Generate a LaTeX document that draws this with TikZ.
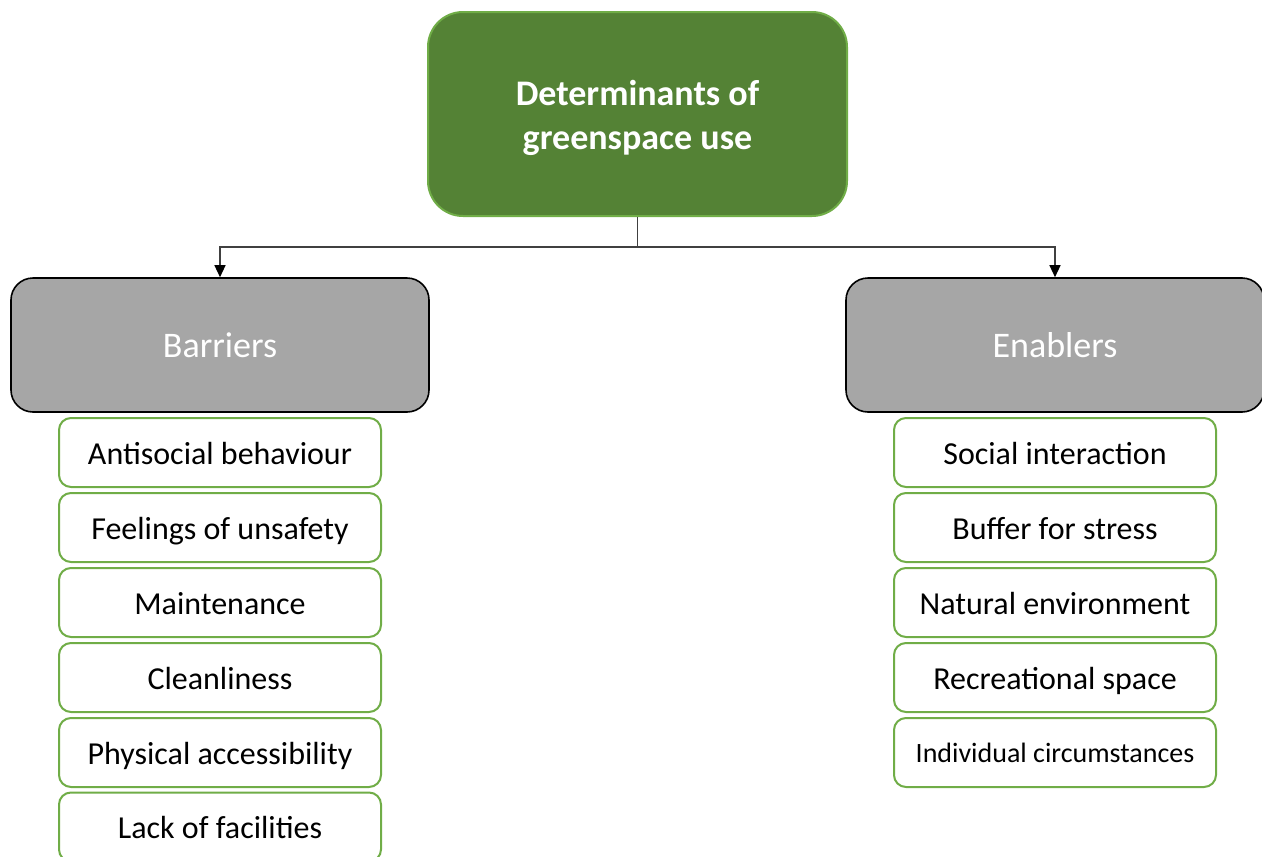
\documentclass[tikz,border=0pt]{standalone}
\usepackage{fontspec}
\setmainfont{Carlito}
\usetikzlibrary{arrows.meta}
\definecolor{dgreen}{HTML}{548235}
\definecolor{lgreen}{HTML}{70AD47}
\definecolor{boxgray}{HTML}{A6A6A6}
\definecolor{linegray}{HTML}{404040}
\tikzset{
  topbox/.style={draw=lgreen, line width=2pt, fill=dgreen, rounded corners=35pt,
    minimum width=419pt, minimum height=204pt, inner sep=0pt, text=white,
    font=\fontsize{36}{44}\selectfont\bfseries, align=center},
  catbox/.style={draw=black, line width=1.6pt, fill=boxgray, rounded corners=22pt,
    minimum width=418pt, minimum height=134pt, inner sep=0pt, text=white,
    font=\fontsize{36}{44}\selectfont, text height=26pt, text depth=1pt},
  itembox/.style={draw=lgreen, line width=2pt, fill=white, rounded corners=12pt,
    minimum width=322pt, minimum height=69pt, inner sep=0pt,
    font=\fontsize{32}{39}\selectfont, text height=24pt, text depth=1pt},
  conn/.style={draw=linegray, line width=1.3pt,
    -{Triangle[length=12pt,width=11pt,fill=black,color=black]}},
}
\begin{document}
\begin{tikzpicture}[x=1pt,y=-1pt]
\useasboundingbox (0,0) rectangle (1262,857);
\node[topbox] (top) at (637.5,114) {\raisebox{-5pt}[\height][\depth]{\begin{tabular}{@{}c@{}}Determinants of\\greenspace use\end{tabular}}};
\node[catbox] (bar) at (220,345) {Barriers};
\node[catbox] (ena) at (1055,345) {Enablers};
\coordinate (split) at (637.5,247);
\draw[conn] (top.south) -- (split) -| (bar.north);
\draw[conn] (split) -| (ena.north);
\node[itembox] (b1) at (220,452.5) {Antisocial behaviour};
\node[itembox] (b2) at (220,527.5) {Feelings of unsafety};
\node[itembox] (b3) at (220,602.5) {Maintenance};
\node[itembox] (b4) at (220,677.5) {Cleanliness};
\node[itembox] (b5) at (220,752.5) {Physical accessibility};
\node[itembox] (b6) at (220,827) {Lack of facilities};
\node[itembox] (e1) at (1055,452.5) {Social interaction};
\node[itembox] (e2) at (1055,527.5) {Buffer for stress};
\node[itembox] (e3) at (1055,602.5) {Natural environment};
\node[itembox] (e4) at (1055,677.5) {Recreational space};
\node[itembox, font=\fontsize{28}{34}\selectfont, text height=21pt] (e5) at (1055,752.5) {Individual circumstances};
\end{tikzpicture}
\end{document}
